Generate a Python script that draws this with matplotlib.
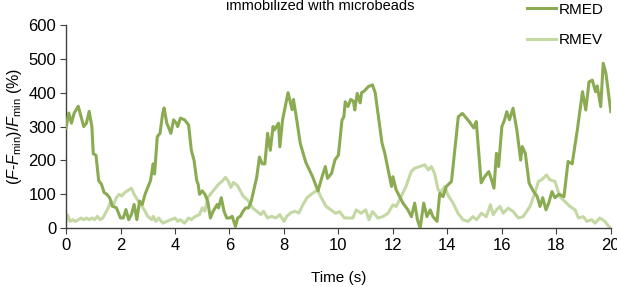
import matplotlib
matplotlib.use('Agg')
import matplotlib.pyplot as plt

plt.rcParams['font.family'] = ['Liberation Sans', 'DejaVu Sans']
plt.rcParams['mathtext.fontset'] = 'custom'
plt.rcParams['mathtext.rm'] = 'Liberation Sans'
plt.rcParams['mathtext.it'] = 'Liberation Sans:italic'

# RMED trace (time in s, value in %)
rmed_t = [0.0, 0.1, 0.2, 0.3, 0.45, 0.55, 0.65, 0.75, 0.85, 0.95, 1.0, 1.1, 1.2, 1.3, 1.4,
          1.5, 1.6, 1.7, 1.85, 2.0, 2.1, 2.2, 2.3, 2.4, 2.5, 2.6, 2.7, 2.8, 2.9, 3.0,
          3.1, 3.2, 3.25, 3.35, 3.45, 3.55, 3.6, 3.7, 3.85, 3.95, 4.05, 4.1, 4.2, 4.35,
          4.5, 4.6, 4.7, 4.8, 4.85, 4.9, 5.0, 5.1, 5.2, 5.3, 5.4, 5.55, 5.6, 5.7, 5.8,
          5.9, 6.0, 6.1, 6.22, 6.3, 6.4, 6.5, 6.6, 6.7, 6.8, 7.0, 7.1, 7.2, 7.3, 7.4,
          7.5, 7.6, 7.65, 7.8, 7.85, 7.95, 8.05, 8.15, 8.3, 8.35, 8.45, 8.6, 8.8,
          9.05, 9.25, 9.4, 9.52, 9.6, 9.75, 9.87, 10.0, 10.13, 10.2, 10.25, 10.35,
          10.45, 10.55, 10.6, 10.69, 10.8, 10.85, 10.95, 11.1, 11.25, 11.35, 11.47,
          11.6, 11.7, 11.83, 11.95, 12.0, 12.12, 12.37, 12.55, 12.68, 12.8, 12.9,
          13.0, 13.13, 13.25, 13.37, 13.47, 13.62, 13.72, 13.84, 13.96, 14.15, 14.27,
          14.4, 14.55, 14.8, 14.97, 15.06, 15.24, 15.37, 15.52, 15.62, 15.71, 15.8,
          15.88, 16.0, 16.1, 16.18, 16.28, 16.41, 16.55, 16.69, 16.75, 16.86, 17.0,
          17.15, 17.3, 17.4, 17.5, 17.62, 17.72, 17.84, 17.95, 18.1, 18.28, 18.43,
          18.58, 18.77, 18.96, 19.08, 19.2, 19.32, 19.44, 19.5, 19.63, 19.72, 19.82,
          20.0]
rmed_v = [295, 340, 310, 340, 360, 330, 300, 310, 345, 300, 220, 215, 140, 130, 105,
          100, 90, 65, 60, 30, 30, 55, 25, 40, 70, 25, 80, 70, 100, 120,
          140, 190, 160, 270, 280, 340, 355, 310, 280, 320, 310, 300, 325, 320,
          305, 230, 200, 140, 130, 100, 110, 100, 80, 30, 50, 70, 60, 90, 50,
          30, 30, 35, 5, 30, 35, 50, 60, 60, 80, 150, 210, 190, 190, 280,
          230, 300, 290, 310, 240, 320, 360, 400, 350, 380, 330, 250, 195,
          152, 110, 152, 182, 147, 162, 201, 216, 319, 329, 373, 359,
          380, 375, 349, 398, 370, 400, 405, 418, 423, 400, 329,
          251, 222, 170, 123, 152, 113, 74, 54, 34, 74, 25,
          0, 74, 34, 54, 34, 20, 103, 93, 123, 138, 231,
          329, 339, 315, 296, 315, 134, 152, 167, 143, 118, 221,
          182, 300, 320, 344, 320, 354, 290, 201, 241, 221, 133,
          110, 93, 64, 90, 54, 74, 108, 90, 100, 93, 197,
          190, 290, 403, 349, 432, 437, 403, 420, 359, 487, 457,
          344]

# RMEV trace
rmev_t = [0.0, 0.05, 0.15, 0.25, 0.35, 0.45, 0.55, 0.65, 0.75, 0.85, 0.95, 1.05, 1.15,
          1.25, 1.35, 1.45, 1.55, 1.65, 1.75, 1.85, 1.95, 2.05, 2.15, 2.25, 2.4, 2.5,
          2.65, 2.75, 2.9, 3.0, 3.15, 3.2, 3.3, 3.4, 3.55, 3.7, 3.85, 4.0, 4.1, 4.2,
          4.35, 4.5, 4.6, 4.75, 4.9, 5.0, 5.1, 5.2, 5.3, 5.4, 5.5, 5.6, 5.75, 5.85,
          5.95, 6.05, 6.15, 6.3, 6.5, 6.7, 6.85, 7.0, 7.15, 7.25, 7.4, 7.55, 7.7,
          7.85, 8.0, 8.1, 8.25, 8.4, 8.55, 8.7, 8.85, 9.0, 9.24, 9.35, 9.55, 9.73,
          9.9, 10.04, 10.22, 10.53, 10.65, 10.83, 11.0, 11.12, 11.25, 11.45, 11.63,
          11.82, 12.0, 12.12, 12.3, 12.48, 12.67, 12.8, 12.98, 13.17, 13.3, 13.41,
          13.53, 13.66, 13.78, 13.9, 14.02, 14.21, 14.39, 14.57, 14.76, 14.94, 15.07,
          15.25, 15.43, 15.58, 15.68, 15.8, 15.93, 16.05, 16.23, 16.42, 16.6, 16.78,
          17.03, 17.21, 17.34, 17.46, 17.64, 17.76, 17.95, 18.13, 18.31, 18.5, 18.69,
          18.81, 18.99, 19.12, 19.3, 19.42, 19.6, 19.78, 19.98]
rmev_v = [20, 40, 20, 25, 20, 25, 30, 25, 30, 25, 30, 25, 35,
          25, 30, 45, 60, 80, 70, 90, 100, 95, 105, 110, 118, 100,
          80, 70, 50, 35, 25, 35, 20, 30, 15, 20, 25, 30, 20, 25,
          15, 30, 25, 35, 40, 60, 50, 90, 100, 110, 120, 130, 140, 150,
          140, 120, 135, 125, 95, 80, 60, 50, 40, 50, 30, 35, 30,
          40, 20, 35, 45, 50, 45, 70, 90, 100, 113, 93, 64, 54,
          44, 49, 30, 30, 54, 44, 54, 25, 49, 30, 34,
          44, 69, 64, 93, 123, 167, 177, 182, 187, 172, 182,
          162, 113, 108, 123, 98, 74, 44, 25, 20, 34, 25,
          44, 34, 69, 40, 54, 64, 44, 59, 49, 30, 34,
          64, 103, 138, 143, 157, 143, 138, 93, 79, 64, 54,
          30, 34, 20, 25, 15, 30, 20, 0]

fig = plt.figure(figsize=(6.17, 2.87), dpi=100)
ax = fig.add_axes([0.107, 0.205, 0.883, 0.708])

ax.plot(rmed_t, rmed_v, color='#8aab52', lw=2.2, label='RMED', zorder=3)
ax.plot(rmev_t, rmev_v, color='#c4d8a4', lw=2.2, label='RMEV', zorder=2)

ax.set_xlim(0, 20)
ax.set_ylim(0, 600)
ax.set_xticks(range(0, 21, 2))
ax.set_yticks(range(0, 601, 100))
for s in ['top', 'right']:
    ax.spines[s].set_visible(False)
for s in ['left', 'bottom']:
    ax.spines[s].set_color('#404040')
    ax.spines[s].set_linewidth(1.0)
ax.tick_params(direction='out', length=4, color='#404040', labelsize=12, pad=3)

ax.set_xlabel('Time (s)', fontsize=11, labelpad=13)
ax.set_ylabel(r'$(\mathit{F}$-$\mathit{F}_{\mathrm{min}})/\mathit{F}_{\mathrm{min}}$ (%)', fontsize=11.5, labelpad=3)

fig.text(0.519, 0.98, 'immobilized with microbeads', ha='center', va='center', fontsize=10.5)

ax.legend(loc='upper left', bbox_to_anchor=(0.835, 1.14), frameon=False, fontsize=11,
          handlelength=1.9, handletextpad=0.15, labelspacing=1.1, borderaxespad=0)

fig.savefig('out.png', dpi=100)
